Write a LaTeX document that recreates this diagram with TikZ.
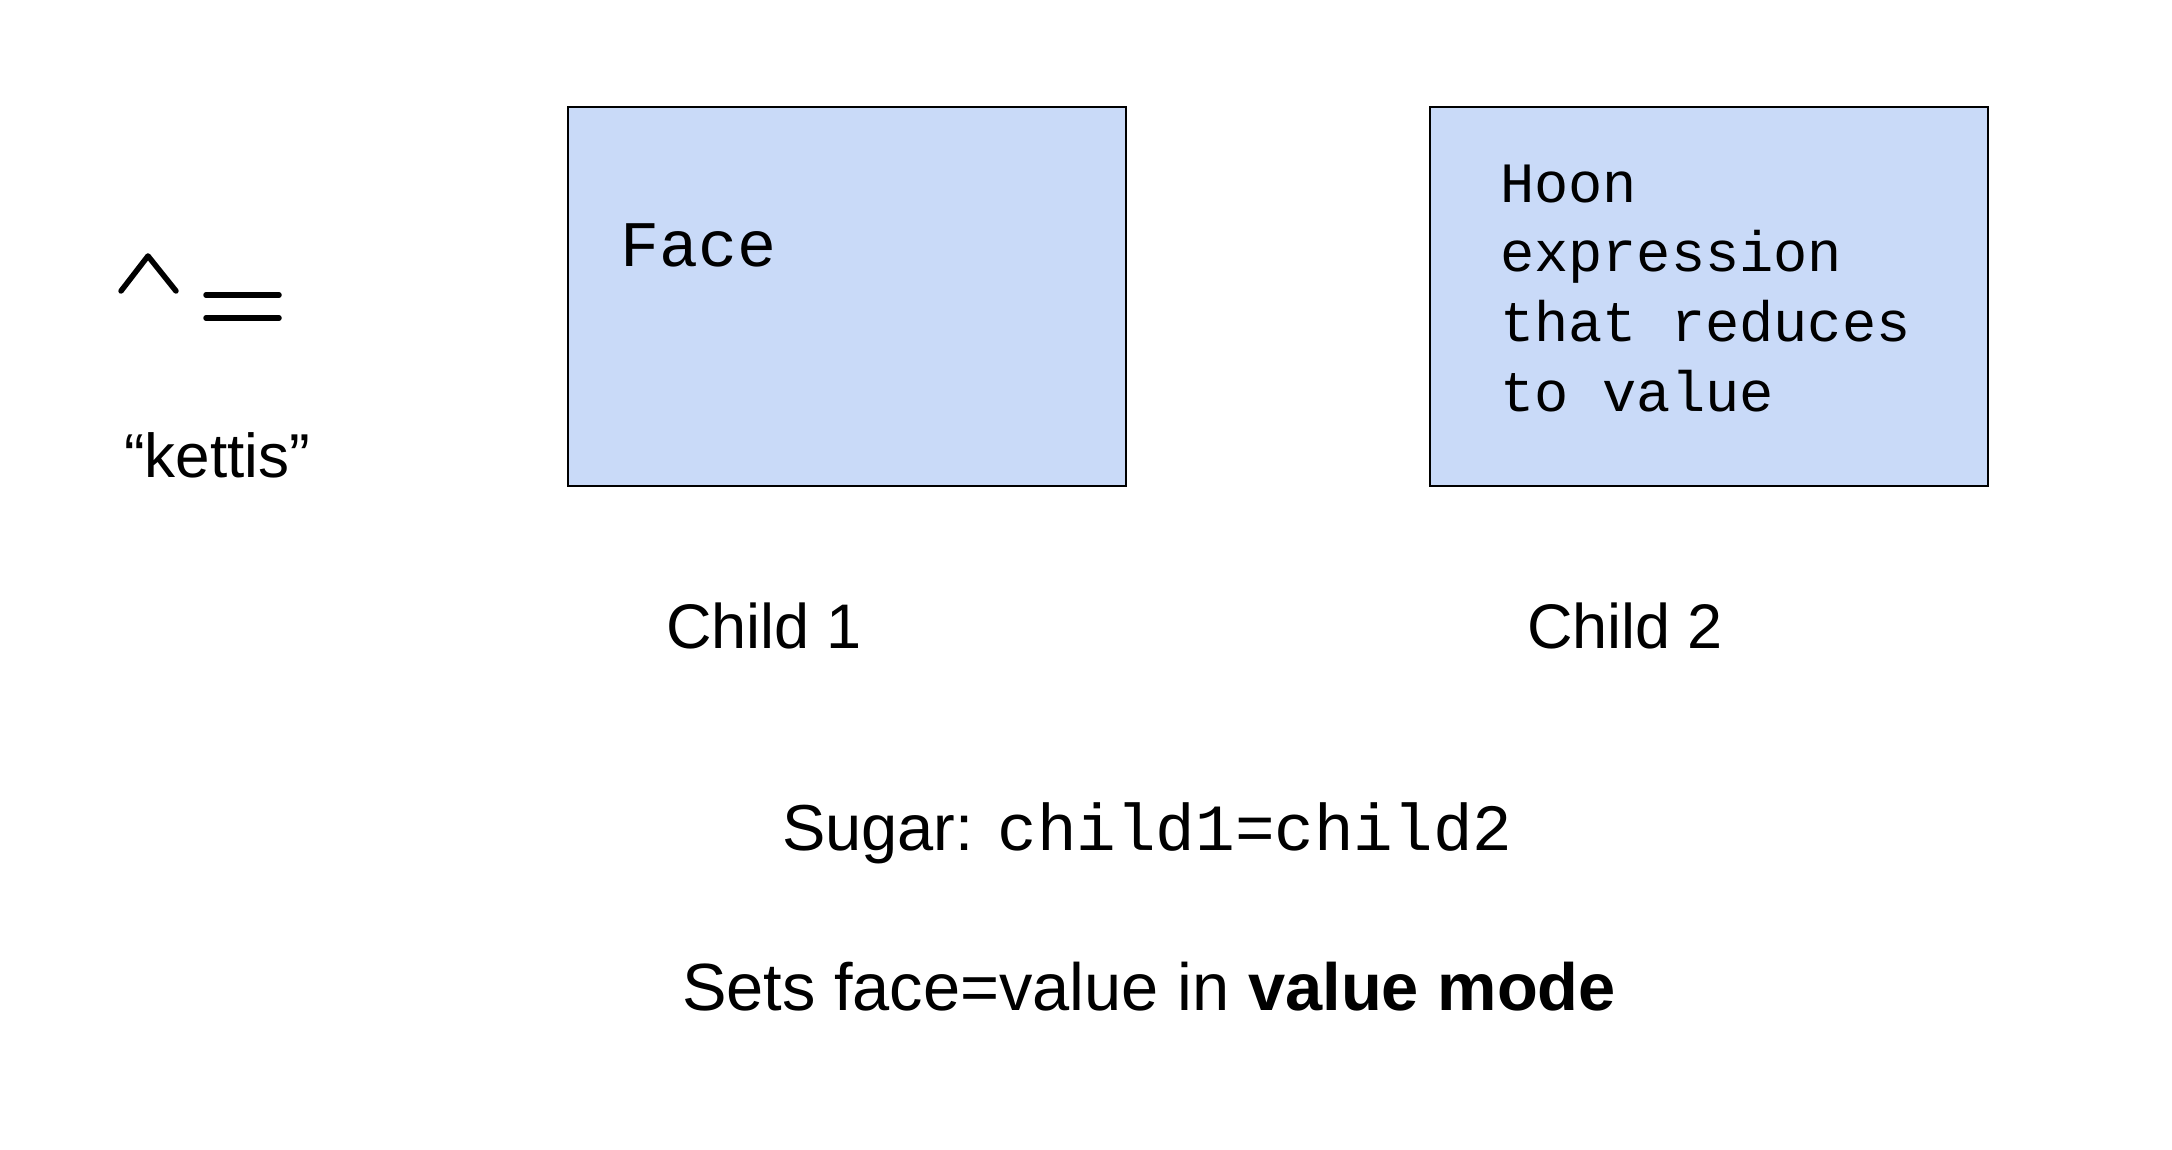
\documentclass[tikz,border=0pt]{standalone}
\usepackage{fontspec}
\setmainfont{Liberation Sans}
\newfontfamily\monofam{Liberation Mono}
\definecolor{boxblue}{HTML}{C9DAF8}
\tikzset{
  panel/.style={draw=black, line width=2.5pt, fill=boxblue, minimum width=558pt, minimum height=379pt, inner sep=0pt},
  lbl/.style={anchor=base west, inner sep=0pt, outer sep=0pt},
  glyph/.style={line width=5.5pt, line cap=round, line join=round},
}
\begin{document}
\begin{tikzpicture}[x=1pt, y=-1pt]
\useasboundingbox (0,0) rectangle (2172,1150);
% rune ^=
\coordinate (c1) at (121,291);
\coordinate (c2) at (148,256);
\coordinate (c3) at (176,291);
\draw[glyph] (c1) -- (c2) -- (c3);
\coordinate (e1) at (206,295);
\coordinate (e2) at (279,295);
\coordinate (e3) at (206,318);
\coordinate (e4) at (279,318);
\draw[glyph] (e1) -- (e2);
\draw[glyph] (e3) -- (e4);
\node[lbl, font=\fontsize{62}{74}\selectfont] (kettis) at (124,477) {“kettis”};
% boxes
\node[panel] (box1) at (847,296.5) {};
\node[panel] (box2) at (1709,296.5) {};
\node[lbl, font=\monofam\fontsize{65}{78}\selectfont] (face) at (620,267) {Face};
\node[lbl, font=\monofam\fontsize{57}{70}\selectfont] (h1) at (1500,203) {Hoon};
\node[lbl, font=\monofam\fontsize{57}{70}\selectfont] (h2) at (1500,272) {expression};
\node[lbl, font=\monofam\fontsize{57}{70}\selectfont] (h3) at (1500,341.5) {that reduces};
\node[lbl, font=\monofam\fontsize{57}{70}\selectfont] (h4) at (1500,411) {to value};
% labels
\node[lbl, font=\fontsize{63}{76}\selectfont] (child1) at (666,648) {Child 1};
\node[lbl, font=\fontsize{63}{76}\selectfont] (child2) at (1527,648) {Child 2};
\node[lbl, font=\fontsize{65}{78}\selectfont] (sugar) at (782,850) {Sugar: {\monofam\fontsize{66}{78}\selectfont child1=child2}};
\node[lbl, font=\fontsize{66.8}{80}\selectfont] (sets) at (682,1010) {Sets face=value in \textbf{value mode}};
\end{tikzpicture}
\end{document}
